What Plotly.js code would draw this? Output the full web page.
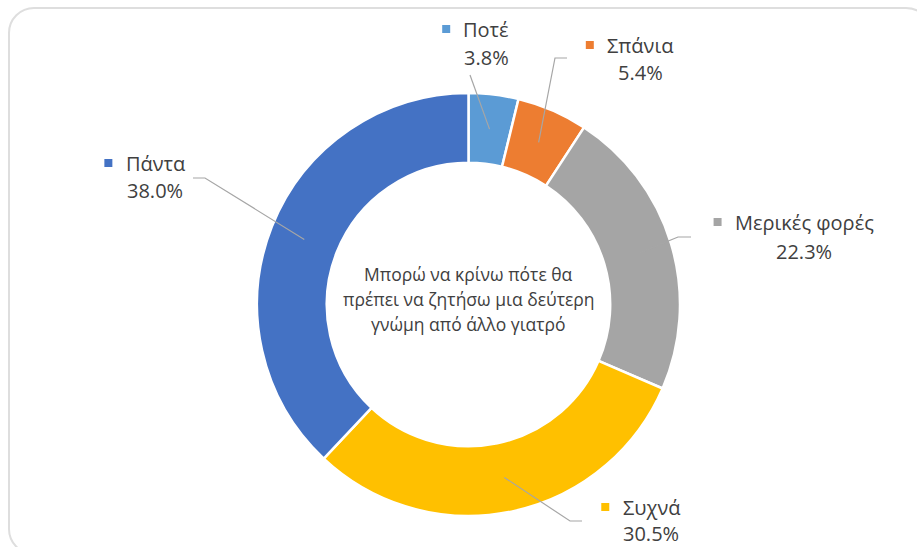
<!DOCTYPE html>
<html><head><meta charset="utf-8">
<script src="https://cdn.plot.ly/plotly-3.0.1.min.js"></script>
<style>
html,body{margin:0;padding:0;background:#fff;}
#wrap{position:relative;width:917px;height:547px;overflow:hidden;background:#fff;}
#frame{position:absolute;left:8px;top:7px;width:924px;height:548px;border:2px solid #dedede;border-radius:26px;box-sizing:border-box;}
#chart{position:absolute;left:0;top:0;width:917px;height:547px;}
</style></head><body>
<div id="wrap"><div id="frame"></div><div id="chart"></div></div>
<script>
// ---- data ----
const categories = ['Ποτέ', 'Σπάνια', 'Μερικές φορές', 'Συχνά', 'Πάντα'];
const values = [3.8, 5.4, 22.3, 30.5, 38.0];
const valueLabels = ['3.8%', '5.4%', '22.3%', '30.5%', '38.0%'];
const centerLines = ['Μπορώ να κρίνω πότε θα', 'πρέπει να ζητήσω μια δεύτερη', 'γνώμη από άλλο γιατρό'];
const colors = ['#5b9bd5', '#ed7d31', '#a5a5a5', '#ffc000', '#4472c4'];

// ---- layout constants (pixels) ----
const W = 917, H = 547;
const M = {l: 257, r: 237, t: 93, b: 31};
const PW = W - M.l - M.r, PH = H - M.t - M.b;
const HOLE = 0.67;
const R = Math.min(PW, PH) / 2;
const CX = M.l + PW / 2, CY = M.t + PH / 2;
const px2x = p => (p - M.l) / PW;
const py2y = p => (H - M.b - p) / PH;

// label placement (text centre and leader-line elbow points, in pixels)
const labelPlace = [
  {x: 486, yName: 29,  yPct: 57,  path: [[470, 75]]},
  {x: 640, yName: 45,  yPct: 72,  path: [[555, 58], [567, 58]]},
  {x: 804, yName: 222, yPct: 251, path: [[678, 237], [691, 237]]},
  {x: 651, yName: 507, yPct: 533, path: [[570, 521], [582, 521]]},
  {x: 155, yName: 163, yPct: 190, path: [[205, 178], [193, 178]]}
];
const centerY = [274, 299, 324];
const LABEL_FONT = 20, CENTER_FONT = 17.5;
const FONT = '"Open Sans", "Liberation Sans", sans-serif';
const TXT = '#404040';

// anchors on ring middle, derived from data
const total = values.reduce((a, b) => a + b, 0);
let cum = 0;
const anchors = values.map(v => {
  const mid = (cum + v / 2) / total * 2 * Math.PI;
  cum += v;
  const rr = R * (1 + HOLE) / 2;
  return [CX + rr * Math.sin(mid), CY - rr * Math.cos(mid)];
});

const ctx = document.createElement('canvas').getContext('2d');
ctx.font = LABEL_FONT + 'px "Open Sans"';

const shapes = [], annotations = [];
categories.forEach((c, i) => {
  const lp = labelPlace[i];
  const pts = [anchors[i]].concat(lp.path);
  const d = pts.map((p, k) => (k ? 'L' : 'M') + px2x(p[0]) + ',' + py2y(p[1])).join(' ');
  shapes.push({type: 'path', xref: 'paper', yref: 'paper', path: d,
    line: {color: '#a6a6a6', width: 1.2}});
  annotations.push({xref: 'paper', yref: 'paper', x: px2x(lp.x), y: py2y(lp.yName),
    text: c, showarrow: false, xanchor: 'center', yanchor: 'middle',
    font: {family: FONT, size: LABEL_FONT, color: TXT}});
  annotations.push({xref: 'paper', yref: 'paper', x: px2x(lp.x), y: py2y(lp.yPct),
    text: valueLabels[i], showarrow: false, xanchor: 'center', yanchor: 'middle',
    font: {family: FONT, size: LABEL_FONT, color: TXT}});
  const w = ctx.measureText(c).width;
  const right = lp.x - w / 2 - 13, s = 8;
  shapes.push({type: 'rect', xref: 'paper', yref: 'paper',
    x0: px2x(right - s), x1: px2x(right), y0: py2y(lp.yName + s / 2), y1: py2y(lp.yName - s / 2),
    fillcolor: colors[i], line: {width: 0}});
});
centerLines.forEach((t, k) => {
  annotations.push({xref: 'paper', yref: 'paper', x: px2x(CX), y: py2y(centerY[k]),
    text: t, showarrow: false, xanchor: 'center', yanchor: 'middle',
    font: {family: FONT, size: CENTER_FONT, color: TXT}});
});

const trace = {
  type: 'pie', labels: categories, values: values, hole: HOLE,
  sort: false, direction: 'clockwise', rotation: 0,
  marker: {colors: colors, line: {color: '#ffffff', width: 2.5}},
  textinfo: 'none', hoverinfo: 'none', showlegend: false
};
Plotly.newPlot('chart', [trace], {
  width: W, height: H, margin: M,
  paper_bgcolor: 'rgba(0,0,0,0)', plot_bgcolor: 'rgba(0,0,0,0)',
  showlegend: false, shapes: shapes, annotations: annotations
}, {displayModeBar: false, staticPlot: true});
</script>
</body></html>
